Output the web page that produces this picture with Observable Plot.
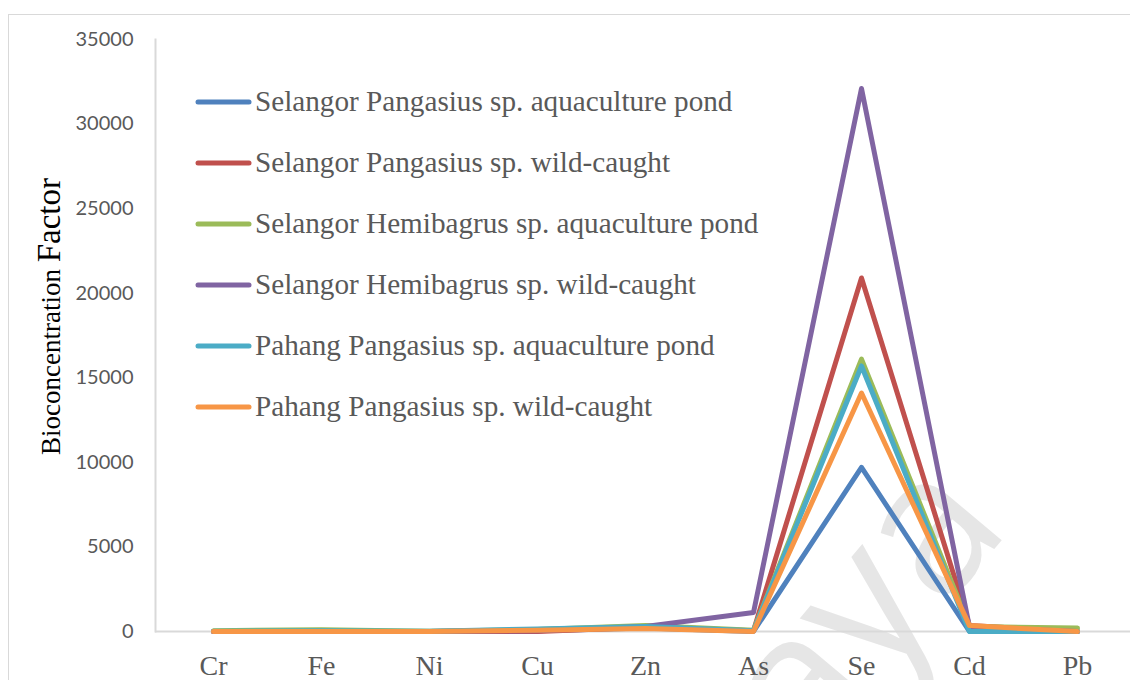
<!DOCTYPE html>
<html>
<head>
<meta charset="utf-8">
<script src="https://cdn.jsdelivr.net/npm/d3@7"></script>
<script src="https://cdn.jsdelivr.net/npm/@observablehq/plot@0.6"></script>
<style>
  html, body { margin: 0; padding: 0; background: #fff; overflow: hidden; }
  #wrap { position: relative; width: 1130px; height: 680px; overflow: hidden; }
  #border { position: absolute; left: 8px; top: 14px; width: 1200px; height: 800px; border: 1.5px solid #d9d9d9; box-sizing: border-box; }
  #chart { position: absolute; left: 0; top: 0; }
</style>
</head>
<body>
<div id="wrap"><div id="border"></div><div id="chart"></div></div>
<script>
const metals = ["Cr", "Fe", "Ni", "Cu", "Zn", "As", "Se", "Cd", "Pb"];
const seriesNames = [
  "Selangor Pangasius sp. aquaculture pond",
  "Selangor Pangasius sp. wild-caught",
  "Selangor Hemibagrus sp. aquaculture pond",
  "Selangor Hemibagrus sp. wild-caught",
  "Pahang Pangasius sp. aquaculture pond",
  "Pahang Pangasius sp. wild-caught"
];
const selPangAqua  = [0, 0, 0, 50, 200, 0, 9700, 0, 0];
const selPangWild  = [0, 0, 0, 0, 250, 50, 20900, 350, 0];
const selHemiAqua  = [50, 100, 20, 120, 350, 80, 16100, 300, 200];
const selHemiWild  = [0, 0, 0, 50, 300, 1120, 32100, 250, 0];
const pahPangAqua  = [20, 50, 20, 150, 300, 50, 15700, 0, 0];
const pahPangWild  = [0, 0, 0, 80, 180, 0, 14100, 350, 0];
const yTicks = [0, 5000, 10000, 15000, 20000, 25000, 30000, 35000];
const colors = ["#4F81BD", "#C0504D", "#9BBB59", "#8064A2", "#4BACC6", "#F79646"];

const allSeries = [selPangAqua, selPangWild, selHemiAqua, selHemiWild, pahPangAqua, pahPangWild];
const rows = [];
allSeries.forEach((vals, si) => {
  vals.forEach((v, mi) => rows.push({series: seriesNames[si], metal: metals[mi], value: v}));
});

const W = 1130, H = 680;
const mL = 155, mT = 39, mB = 49, mR = 0;
const step = 108.9;

const plot = Plot.plot({
  width: W,
  height: H,
  marginLeft: mL,
  marginTop: mT,
  marginBottom: mB,
  marginRight: mR,
  style: {background: "transparent", overflow: "visible"},
  x: {type: "point", domain: metals, padding: 0, range: [mL + step / 2, mL + step * 8.5]},
  y: {domain: [0, 35000]},
  color: {domain: seriesNames, range: colors},
  marks: [
    Plot.frame({anchor: "left", stroke: "#d9d9d9", strokeWidth: 2}),
    Plot.ruleY([0], {stroke: "#d9d9d9", strokeWidth: 2}),
    Plot.axisY({ticks: yTicks, tickFormat: d => String(d), tickSize: 0, tickPadding: 22, label: null, fontSize: 20, fontFamily: "Lato", fill: "#595959"}),
    Plot.axisX({tickSize: 0, tickPadding: 24, label: null, fontSize: 28, fontFamily: "Liberation Serif", fill: "#595959"}),
    Plot.line(rows, {x: "metal", y: "value", z: "series", stroke: "series", strokeWidth: 5, strokeLinecap: "round", strokeLinejoin: "round"})
  ]
});
document.getElementById("chart").appendChild(plot);

const svg = d3.select(plot);

// watermark (behind lines)
svg.insert("text", ":first-child")
  .attr("transform", "translate(1012,528) rotate(-50)")
  .attr("text-anchor", "end")
  .attr("font-family", "Open Sans")
  .attr("font-size", 195)
  .attr("fill", "#e6e6e6")
  .text("Malaya");

// y-axis title
const yt = svg.append("text")
  .attr("transform", "translate(60,455) rotate(-90)")
  .attr("text-anchor", "start")
  .attr("font-family", "Liberation Serif")
  .attr("fill", "#000");
yt.append("tspan").attr("font-size", 27).text("Bioconcentration ");
yt.append("tspan").attr("font-size", 33).text("Factor");

// legend
const legend = svg.append("g");
seriesNames.forEach((name, i) => {
  const cy = 102 + i * 61;
  legend.append("line")
    .attr("x1", 198).attr("x2", 249).attr("y1", cy).attr("y2", cy)
    .attr("stroke", colors[i]).attr("stroke-width", 5).attr("stroke-linecap", "round");
  legend.append("text")
    .attr("x", 255).attr("y", cy + 9)
    .attr("text-anchor", "start")
    .attr("font-family", "Liberation Serif").attr("font-size", 29.2)
    .attr("fill", "#595959")
    .text(name);
});
</script>
</body>
</html>
